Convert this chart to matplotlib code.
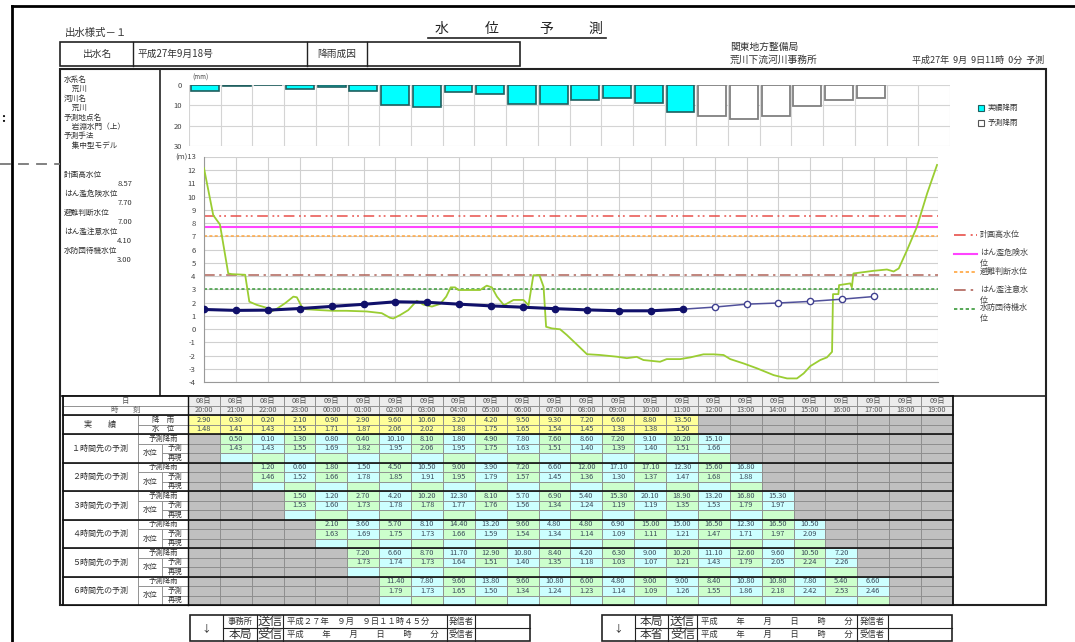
import numpy as np
import matplotlib.pyplot as plt
from matplotlib.patches import Rectangle

plt.rcParams['font.family'] = ['Noto Sans CJK JP', 'DejaVu Sans']

# ---------------- data ----------------
days = ['08日', '08日', '08日', '08日', '09日', '09日', '09日', '09日', '09日', '09日', '09日', '09日',
        '09日', '09日', '09日', '09日', '09日', '09日', '09日', '09日', '09日', '09日', '09日', '09日']
times = ['20:00', '21:00', '22:00', '23:00', '00:00', '01:00', '02:00', '03:00', '04:00', '05:00',
         '06:00', '07:00', '08:00', '09:00', '10:00', '11:00', '12:00', '13:00', '14:00', '15:00',
         '16:00', '17:00', '18:00', '19:00']

rain_obs = [2.90, 0.30, 0.20, 2.10, 0.90, 2.90, 9.60, 10.60, 3.20, 4.20, 9.50, 9.30, 7.20, 6.60, 8.80, 13.50]
level_obs = [1.48, 1.41, 1.43, 1.55, 1.71, 1.87, 2.06, 2.02, 1.88, 1.75, 1.65, 1.54, 1.45, 1.38, 1.38, 1.50]
rain_fc = [15.10, 16.80, 15.30, 10.50, 7.20, 6.60]
level_fc = [1.66, 1.88, 1.97, 2.09, 2.26, 2.46]

pred_names = ['１時間先の予測', '２時間先の予測', '３時間先の予測', '４時間先の予測', '５時間先の予測', '６時間先の予測']
pred_rain = [
    [0.50, 0.10, 1.30, 0.80, 0.40, 10.10, 8.10, 1.80, 4.90, 7.80, 7.60, 8.60, 7.20, 9.10, 10.20, 15.10],
    [1.20, 0.60, 1.80, 1.50, 4.50, 10.50, 9.00, 3.90, 7.20, 6.60, 12.00, 17.10, 17.10, 12.30, 15.60, 16.80],
    [1.50, 1.20, 2.70, 4.20, 10.20, 12.30, 8.10, 5.70, 6.90, 5.40, 15.30, 20.10, 18.90, 13.20, 16.80, 15.30],
    [2.10, 3.60, 5.70, 8.10, 14.40, 13.20, 9.60, 4.80, 4.80, 6.90, 15.00, 15.00, 16.50, 12.30, 16.50, 10.50],
    [7.20, 6.60, 8.70, 11.70, 12.90, 10.80, 8.40, 4.20, 6.30, 9.00, 10.20, 11.10, 12.60, 9.60, 10.50, 7.20],
    [11.40, 7.80, 9.60, 13.80, 9.60, 10.80, 6.00, 4.80, 9.00, 9.00, 8.40, 10.80, 10.80, 7.80, 5.40, 6.60],
]
pred_level = [
    [1.43, 1.43, 1.55, 1.69, 1.82, 1.95, 2.06, 1.95, 1.75, 1.63, 1.51, 1.40, 1.39, 1.40, 1.51, 1.66],
    [1.46, 1.52, 1.66, 1.78, 1.85, 1.91, 1.95, 1.79, 1.57, 1.45, 1.36, 1.30, 1.37, 1.47, 1.68, 1.88],
    [1.53, 1.60, 1.73, 1.78, 1.78, 1.77, 1.76, 1.56, 1.34, 1.24, 1.19, 1.19, 1.35, 1.53, 1.79, 1.97],
    [1.63, 1.69, 1.75, 1.73, 1.66, 1.59, 1.54, 1.34, 1.14, 1.09, 1.11, 1.21, 1.47, 1.71, 1.97, 2.09],
    [1.73, 1.74, 1.73, 1.64, 1.51, 1.40, 1.35, 1.18, 1.03, 1.07, 1.21, 1.43, 1.79, 2.05, 2.24, 2.26],
    [1.79, 1.73, 1.65, 1.50, 1.34, 1.24, 1.23, 1.14, 1.09, 1.26, 1.55, 1.86, 2.18, 2.42, 2.53, 2.46],
]

# green trace (hour index, level)
green_t = [0.0, 0.29, 0.5, 0.76, 0.87, 1.29, 1.42, 1.65, 1.97, 2.12, 2.23, 2.54, 2.8, 2.91, 3.06, 3.19,
           3.64, 4.05, 4.47, 5.1, 5.57, 5.83, 5.93, 6.14, 6.4, 6.67, 6.87, 7.14, 7.4, 7.59, 7.73, 7.87,
           7.97, 8.65, 8.86, 9.02, 9.18, 9.4, 9.7, 10.01, 10.17, 10.32, 10.51, 10.64, 10.72, 10.9, 11.16,
           11.37, 11.68, 12.0, 12.41, 12.94, 13.25, 13.56, 13.77, 14.29, 14.5, 14.92, 15.24, 15.65, 15.97,
           16.28, 16.49, 16.91, 17.33, 17.85, 18.27, 18.58, 18.79, 19.0, 19.31, 19.52, 19.68, 19.71, 19.88,
           19.9, 20.25, 20.3, 20.35, 20.98, 21.4, 21.61, 21.77, 22.03, 22.34, 22.66, 22.97]
green_v = [12.15, 8.6, 7.9, 4.2, 4.15, 4.1, 2.07, 1.83, 1.6, 1.35, 1.45, 1.95, 2.45, 2.4, 1.7, 1.5,
           1.43, 1.38, 1.38, 1.33, 1.2, 0.85, 0.8, 1.05, 1.43, 2.14, 1.85, 1.7, 1.9, 2.45, 3.15, 3.15,
           2.95, 2.95, 3.28, 3.15, 2.45, 1.8, 2.2, 2.2, 1.8, 4.07, 4.07, 3.2, 0.17, 0.05, -0.02,
           -0.45, -1.16, -1.9, -1.96, -2.09, -2.2, -2.1, -2.34, -2.47, -2.27, -2.27, -2.14, -1.91, -1.91,
           -1.96, -2.27, -2.6, -2.97, -3.48, -3.73, -3.73, -3.35, -2.8, -2.34, -2.14, -1.72, 2.64, 2.64,
           3.32, 3.45, 3.15, 4.2, 4.4, 4.5, 4.35, 4.58, 5.96, 7.73, 10.25, 12.4]

thr_values = [8.57, 7.70, 7.00, 4.10, 3.00]
thr_labels = ['計画高水位', 'はん濫危険水\n位', '避難判断水位', 'はん濫注意水\n位', '水防団待機水\n位']
thr_side = ['計画高水位', 'はん濫危険水位', '避難判断水位', 'はん濫注意水位', '水防団待機水位']
thr_colors = ['#e8504a', '#ff44ff', '#ffa640', '#b0645a', '#3a9a3a']
thr_dash = [(7, 3, 1.2, 2, 1.2, 3), None, (2, 1.5), (7, 3, 1.5, 3), (2, 1.5)]

info_lines = ['水系名', '　荒川', '河川名', '　荒川', '予測地点名', '　岩淵水門（上）', '予測手法', '　集中型モデル']

# ---------------- page ----------------
W, H = 1075, 642
fig = plt.figure(figsize=(W / 100, H / 100), dpi=100)


def rect_px(x0, y0, x1, y1):
    return [x0 / W, 1 - y1 / H, (x1 - x0) / W, (y1 - y0) / H]


pg = fig.add_axes([0, 0, 1, 1], zorder=0)
pg.set_xlim(0, W)
pg.set_ylim(H, 0)
pg.axis('off')

K = '#222222'
T = '#333333'
# outer frame
pg.plot([12, W], [6, 6], color='black', lw=2)
pg.plot([12, 12], [6, H], color='black', lw=2)
pg.plot([0, 60], [164, 164], color='#777777', lw=1.3, ls=(0, (6, 4)))
pg.text(1, 118, ':', fontsize=9, color='black', ha='left', va='center', fontweight='bold')

pg.text(65, 33, '出水様式－１', fontsize=7.5, color=T, va='center')
for ch, x in zip('水位予測', [442, 492, 546, 595]):
    pg.text(x, 29, ch, fontsize=10, color=K, ha='center', va='center')
pg.plot([428, 606], [38, 38], color=K, lw=1.2)

# header row box
pg.add_patch(Rectangle((60, 42), 460, 24, fill=False, ec=K, lw=1.2))
for x in [133, 307, 367]:
    pg.plot([x, x], [42, 66], color=K, lw=1)
pg.text(97, 54, '出水名', fontsize=7, color=T, ha='center', va='center')
pg.text(137, 54, '平成27年9月18号', fontsize=7, color=T, va='center')
pg.text(337, 54, '降雨成因', fontsize=7, color=T, ha='center', va='center')

pg.text(730, 47, '関東地方整備局', fontsize=7, color=T, va='center')
pg.text(730, 60, '荒川下流河川事務所', fontsize=7, color=T, va='center')
pg.text(1044, 60, '平成27年  9月  9日11時  0分  予測', fontsize=6.5, color=T, ha='right', va='center')

# main box
pg.add_patch(Rectangle((60, 69), 986, 536, fill=False, ec=K, lw=1.5))
pg.plot([160, 160], [69, 396], color=K, lw=1.2)
pg.plot([60, 1046], [396, 396], color=K, lw=1.2)

for i, s in enumerate(info_lines):
    pg.text(64, 80 + 9.4 * i, s, fontsize=5.5, color=T, va='center')
for i, (s, v) in enumerate(zip(thr_side, thr_values)):
    pg.text(64, 175 + 19 * i, s, fontsize=5.5, color=T, va='center')
    pg.text(132, 184 + 19 * i, '%.2f' % v, fontsize=5.5, color=T, va='center', ha='right')

# ---------------- rain chart ----------------
ax_r = fig.add_axes(rect_px(189, 85, 950, 146), zorder=2)
ax_r.bar(range(len(rain_obs)), rain_obs, width=0.88, color='#00ffff', edgecolor='#1f5f5f', lw=1.2, zorder=3)
ax_r.bar(range(len(rain_obs), len(rain_obs) + len(rain_fc)), rain_fc, width=0.88, color='white',
         edgecolor='#808080', lw=1.3, zorder=3)
ax_r.set_xlim(-0.5, 23.5)
ax_r.set_ylim(30, 0)
ax_r.set_xticks(np.arange(-0.5, 24, 1))
ax_r.set_xticklabels([])
ax_r.set_yticks([0, 10, 20, 30])
ax_r.tick_params(length=0, labelsize=5.5, labelcolor='#444444', pad=5)
ax_r.grid(color='#d4d4d4', lw=0.8)
for sp in ax_r.spines.values():
    sp.set_visible(False)
ax_r.text(0.005, 1.12, '(mm)', transform=ax_r.transAxes, fontsize=4.5, color='#444444', va='center')

# rain legend
lg_r = fig.add_axes(rect_px(975, 100, 1040, 130), zorder=2)
lg_r.set_xlim(0, 1)
lg_r.set_ylim(2, 0)
lg_r.axis('off')
lg_r.plot([0.1], [0.5], 's', ms=4, mfc='#00ffff', mec='#1f5f5f', mew=0.8)
lg_r.plot([0.1], [1.5], 's', ms=4, mfc='white', mec='#555555', mew=0.8)
lg_r.text(0.2, 0.5, '実績降雨', fontsize=5.5, color=T, va='center')
lg_r.text(0.2, 1.5, '予測降雨', fontsize=5.5, color=T, va='center')

# ---------------- level chart ----------------
ax = fig.add_axes(rect_px(204, 157, 938, 382), zorder=2)
for v, c, d in zip(thr_values, thr_colors, thr_dash):
    ln = ax.axhline(v, color=c, lw=1.1 if d is not None else 1.5, zorder=2)
    if d is not None:
        ln.set_dashes(d)
ax.plot(green_t, green_v, color='#9acd32', lw=1.3, zorder=3)
ax.plot(range(len(level_obs)), level_obs, color='#10106a', lw=2.2, marker='o', ms=4.5, zorder=5)
fc_x = range(len(level_obs) - 1, len(level_obs) + len(level_fc))
fc_y = [level_obs[-1]] + level_fc
ax.plot(fc_x, fc_y, color='#50509a', lw=1.1, marker='o', ms=4.5, mfc='white', mec='#404090',
        mew=1, markevery=list(range(1, len(fc_y))), zorder=4)
ax.set_xlim(0, 23)
ax.set_ylim(-4, 13)
ax.set_xticks(range(24))
ax.set_xticklabels([])
ax.set_yticks(range(-4, 14))
ax.set_yticklabels([str(v) for v in range(-4, 13)] + ['(m)13'])
ax.tick_params(length=0, labelsize=5.5, labelcolor='#444444', pad=6)
ax.grid(color='#d0d0d0', lw=0.8, zorder=0)
for sp in ['top', 'right']:
    ax.spines[sp].set_visible(False)
ax.spines['left'].set_color('#999999')
ax.spines['bottom'].set_color('#999999')

# level legend
lg = fig.add_axes(rect_px(952, 226, 1040, 318), zorder=2)
lg.set_xlim(0, 1)
lg.set_ylim(5, 0)
lg.axis('off')
for i, (s, c, d) in enumerate(zip(thr_labels, thr_colors, thr_dash)):
    ln, = lg.plot([0.02, 0.28], [i + 0.5, i + 0.5], color=c, lw=1.2 if d is not None else 1.5)
    if d is not None:
        ln.set_dashes(d)
    lg.text(0.32, i + 0.2, s, fontsize=5.8, color='#444444', va='top', ha='left', linespacing=1.3)

# ---------------- table ----------------
X0 = -3.92
XB = -1.57
XC = -0.82
n_cols = len(times)
n_rows = 4 + 3 * len(pred_names)
tb = fig.add_axes(rect_px(63, 396, 953, 605), zorder=2)
tb.set_xlim(X0, n_cols)
tb.set_ylim(n_rows, 0)
tb.axis('off')

GRAY = '#c0c0c0'
YEL = '#ffff99'
GRN = '#ccffcc'
CYN = '#ccffff'
CELL_EC = '#8a8a8a'
TXT = '#3a4a5a'
FS = 5.3


def cell(x, y, w, h, fc='white'):
    tb.add_patch(Rectangle((x, y), w, h, facecolor=fc, edgecolor=CELL_EC, lw=0.6))


# header rows
cell(X0, 0, -X0, 1)
cell(X0, 1, -X0, 1)
tb.text(X0 / 2, 0.5, '日', fontsize=FS, color='#555555', ha='center', va='center')
tb.text(X0 / 2, 1.5, '時　　刻', fontsize=FS, color='#555555', ha='center', va='center')
for c in range(n_cols):
    cell(c, 0, 1, 1, '#ececec')
    cell(c, 1, 1, 1, '#ececec')
    tb.text(c + 0.5, 0.5, days[c], fontsize=FS, color='#555555', ha='center', va='center')
    tb.text(c + 0.5, 1.5, times[c], fontsize=FS, color='#555555', ha='center', va='center')

# observed rows
cell(X0, 2, XB - X0, 2)
tb.text((X0 + XB) / 2, 3, '実　　績', fontsize=5.8, color=T, ha='center', va='center')
cell(XB, 2, -XB, 1)
cell(XB, 3, -XB, 1)
tb.text(XB / 2, 2.5, '降　雨', fontsize=FS, color=T, ha='center', va='center')
tb.text(XB / 2, 3.5, '水　位', fontsize=FS, color=T, ha='center', va='center')
for c in range(n_cols):
    if c < len(rain_obs):
        cell(c, 2, 1, 1, YEL)
        cell(c, 3, 1, 1, YEL)
        tb.text(c + 0.5, 2.5, '%.2f' % rain_obs[c], fontsize=FS, color=TXT, ha='center', va='center')
        tb.text(c + 0.5, 3.5, '%.2f' % level_obs[c], fontsize=FS, color=TXT, ha='center', va='center')
    else:
        cell(c, 2, 1, 1, GRAY)
        cell(c, 3, 1, 1, GRAY)

# forecast groups
for g, name in enumerate(pred_names):
    r0 = 4 + 3 * g
    cell(X0, r0, XB - X0, 3)
    tb.text((X0 + XB) / 2, r0 + 1.5, name, fontsize=5.8, color=T, ha='center', va='center')
    cell(XB, r0, -XB, 1)
    tb.text(XB / 2, r0 + 0.5, '予測降雨', fontsize=FS, color=T, ha='center', va='center')
    cell(XB, r0 + 1, XC - XB, 2)
    tb.text((XB + XC) / 2, r0 + 2, '水位', fontsize=FS, color=T, ha='center', va='center')
    cell(XC, r0 + 1, -XC, 1)
    cell(XC, r0 + 2, -XC, 1)
    tb.text(XC / 2, r0 + 1.5, '予測', fontsize=FS, color=T, ha='center', va='center')
    tb.text(XC / 2, r0 + 2.5, '再現', fontsize=FS, color=T, ha='center', va='center')
    start = g + 1
    for c in range(n_cols):
        k = c - start
        if 0 <= k < len(pred_rain[g]):
            top = GRN if k % 2 == 0 else CYN
            bot = CYN if k % 2 == 0 else GRN
            cell(c, r0, 1, 1, top)
            cell(c, r0 + 1, 1, 1, top)
            cell(c, r0 + 2, 1, 1, bot)
            tb.text(c + 0.5, r0 + 0.5, '%.2f' % pred_rain[g][k], fontsize=FS, color=TXT,
                    ha='center', va='center')
            tb.text(c + 0.5, r0 + 1.5, '%.2f' % pred_level[g][k], fontsize=FS, color=TXT,
                    ha='center', va='center')
        else:
            for r in range(3):
                cell(c, r0 + r, 1, 1, GRAY)

# thick rule lines of the table
for r in [2, 4, 7, 10, 13, 16, 19, 22]:
    tb.plot([X0, n_cols], [r, r], color='#111111', lw=1.2, clip_on=False)
tb.plot([X0, n_cols], [0, 0], color='#111111', lw=1.2, clip_on=False)
tb.plot([X0, X0], [0, n_rows], color='#111111', lw=1.3, clip_on=False)
tb.plot([n_cols, n_cols], [0, n_rows], color='#111111', lw=1.3, clip_on=False)
tb.plot([0, 0], [0, n_rows], color='#111111', lw=1.0, clip_on=False)


# ---------------- transmission boxes ----------------
def form_box(x0, x1, div, row1, row2):
    pg.add_patch(Rectangle((x0, 615), x1 - x0, 26, fill=False, ec=K, lw=1.2))
    pg.plot([div[0], x1], [628, 628], color=K, lw=0.8)
    for x in div:
        pg.plot([x, x], [615, 641], color=K, lw=0.8)
    pg.text((x0 + div[0]) / 2, 628, '↓', fontsize=7, color=K, ha='center', va='center')
    for j, row in enumerate([row1, row2]):
        y = 621.5 + 13 * j
        pg.text((div[0] + div[1]) / 2, y, row[0], fontsize=row[4], color=T, ha='center', va='center')
        pg.text((div[1] + div[2]) / 2, y, row[1], fontsize=9, color=T, ha='center', va='center')
        pg.text(div[2] + 4, y, row[2], fontsize=6, color=T, va='center')
        pg.text((div[3] + div[4]) / 2, y, row[3], fontsize=6, color=T, ha='center', va='center')


form_box(190, 530, [223, 257, 283, 447, 475],
         ['事務所', '送信', '平成２７年　９月　９日１１時４５分', '発信者', 6],
         ['本局', '受信', '平成　　 年　　 月　　 日　　 時　　 分', '受信者', 8.5])
form_box(602, 952, [635, 668, 697, 857, 888],
         ['本局', '送信', '平成　　 年　　 月　　 日　　 時　　 分', '発信者', 8.5],
         ['本省', '受信', '平成　　 年　　 月　　 日　　 時　　 分', '受信者', 8.5])

fig.savefig('out.png', dpi=100)
